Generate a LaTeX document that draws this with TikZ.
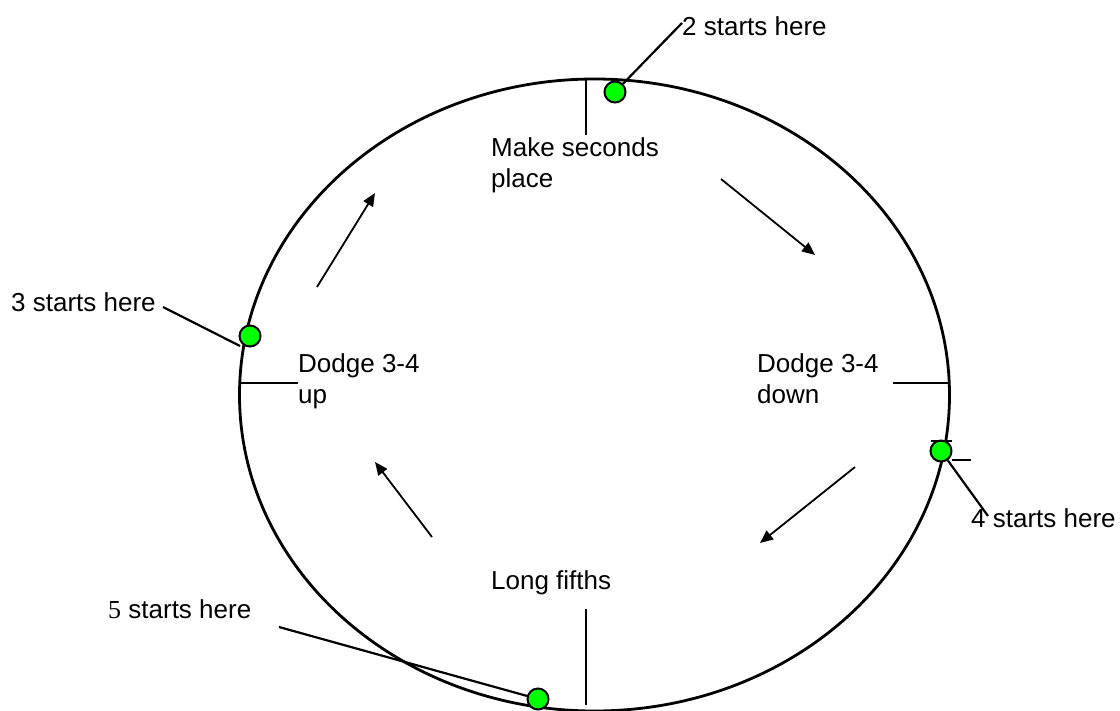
\documentclass[tikz,border=0pt]{standalone}
\usepackage{fontspec}
\setmainfont{Liberation Sans}
\newfontfamily\timesfont{Liberation Serif}
\usetikzlibrary{arrows.meta}
\begin{document}
\begin{tikzpicture}[x=1pt,y=-1pt,
  every node/.style={font=\fontsize{26}{31}\selectfont},
  lbl/.style={anchor=base west,inner sep=0pt,align=left},
  dot/.style={circle,draw,fill=green,line width=2pt,minimum size=21pt,inner sep=0pt},
  lead/.style={line width=2.2pt},
  tickline/.style={line width=2.4pt},
  turn/.style={line width=1.8pt,-{Triangle[length=13pt,width=11pt]}}]
\useasboundingbox (0,0) rectangle (1120,711);

\draw[line width=2.8pt] (594.5,395) ellipse [x radius=355, y radius=316];

\draw[tickline] (586,79) -- (586,135);
\draw[tickline] (240,383) -- (298,383);
\draw[tickline] (893,383) -- (949,383);
\draw[tickline] (586,609) -- (586,705);

\node[lbl] (seconds) at (491,188) {Make seconds\\place};
\node[lbl] (dodgeup) at (298,403) {Dodge 3-4\\up};
\node[lbl] (dodgedown) at (757,403) {Dodge 3-4\\down};
\node[lbl] (fifths) at (491,589) {Long fifths};

\coordinate (a1s) at (721,179); \coordinate (a1e) at (815,255);
\coordinate (a2s) at (855,467); \coordinate (a2e) at (760,543);
\coordinate (a3s) at (432,537); \coordinate (a3e) at (375,462);
\coordinate (a4s) at (317,287); \coordinate (a4e) at (375,193);
\draw[turn] (a1s) -- (a1e);
\draw[turn] (a2s) -- (a2e);
\draw[turn] (a3s) -- (a3e);
\draw[turn] (a4s) -- (a4e);

\node[dot] (d2) at (615,92) {};
\node[dot] (d3) at (250,336) {};
\node[dot] (d4) at (941,451) {};
\node[dot] (d5) at (538,699) {};

\node[lbl] (t2) at (682,36) {2 starts here};
\node[lbl] (t3) at (11,312) {3 starts here};
\node[lbl] (t4) at (971,527) {4 starts here};
\node[lbl] (t5) at (108,618) {{\timesfont 5} starts here};

\coordinate (l2) at (682,23);
\coordinate (l3) at (163,307);
\coordinate (e3) at (240,346);
\coordinate (l4) at (988,516);
\coordinate (l5) at (279,627);
\draw[lead] (d2) -- (l2);
\draw[lead] (l3) -- (e3);
\draw[lead] (d4) -- (l4);
\draw[lead] (d5) -- (l5);
\draw[lead] (931,441) -- (952,441);
\draw[lead] (952,460) -- (971,460);

\end{tikzpicture}
\end{document}
